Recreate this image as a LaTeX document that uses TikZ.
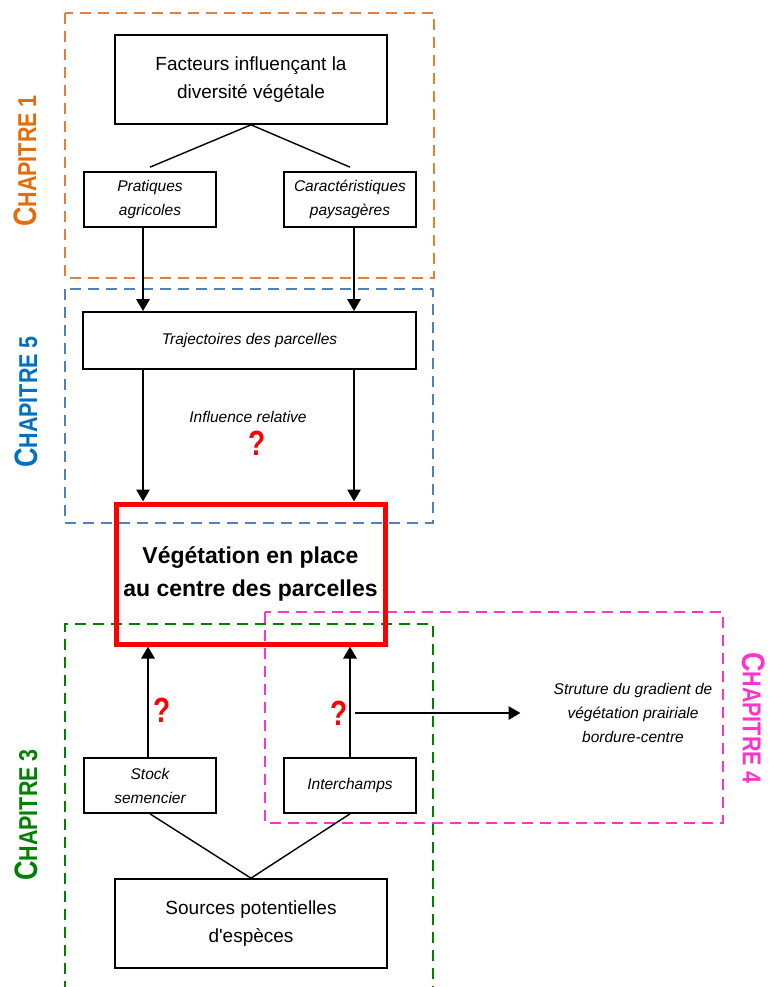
\documentclass[tikz,border=0pt]{standalone}
\usepackage{fontspec}
\setmainfont{Liberation Sans}[Ligatures=TeXOff]
\usetikzlibrary{arrows.meta}
\definecolor{corange}{HTML}{E46C0A}
\definecolor{dorange}{HTML}{ED7D31}
\definecolor{cblue}{HTML}{0070C0}
\definecolor{dblue}{HTML}{4F81BD}
\definecolor{cgreen}{HTML}{008000}
\definecolor{cpink}{HTML}{FF33CC}
\definecolor{cred}{HTML}{FF0000}
\newcommand{\chaplabel}[1]{\scalebox{1}[1.2]{{\fontsize{27}{27}\selectfont C}{\fontsize{21.5}{21.5}\selectfont #1}}}
\begin{document}
\begin{tikzpicture}[x=1pt,y=-1pt,
  stdbox/.style={draw, line width=1.7pt, align=center, inner sep=0pt, font=\fontsize{19}{28}\selectfont},
  itbox/.style={draw, line width=1.7pt, align=center, inner sep=0pt, minimum width=132pt, minimum height=55pt, font=\fontsize{15.5}{24}\selectfont\itshape},
  ittext/.style={align=center, inner sep=0pt, font=\fontsize{15.5}{24}\selectfont\itshape},
  chapdash/.style={line width=2.8pt, dash pattern=on 11pt off 7pt},
  thinline/.style={line width=1.4pt},
  arr/.style={line width=2.8pt, -{Triangle[length=12pt,width=13pt]}},
  qmark/.style={inner sep=0pt, text=cred, font=\fontsize{28}{28}\selectfont\bfseries},
  chap/.style={inner sep=0pt, font=\bfseries}
]
\useasboundingbox (0,0) rectangle (769,987);
\clip (0,0) rectangle (769,987);
\fill[white] (0,0) rectangle (769,987);

% chapter regions
\draw[chapdash, dorange] (65,13) rectangle (434,278);
\draw[chapdash, dblue] (65,289) rectangle (433,523);
\draw[chapdash, cgreen] (65,1010) -- (65,624) -- (433,624) -- (433,1010);
\draw[chapdash, cpink] (265,612) rectangle (723,823);

% chapter labels
\node[chap, text=corange, rotate=90] (ch1) at (25,161) {\chaplabel{HAPITRE 1}};
\node[chap, text=cblue, rotate=90] (ch5) at (26,402) {\chaplabel{HAPITRE 5}};
\node[chap, text=cgreen, rotate=90] (ch3) at (26,815) {\chaplabel{HAPITRE 3}};
\node[chap, text=cpink, rotate=-90] (ch4) at (754,718) {\chaplabel{HAPITRE 4}};

% boxes
\node[stdbox, minimum width=272pt, minimum height=89pt] (fact) at (251,79.5) {Facteurs influençant la\\diversité végétale};
\node[itbox] (prat) at (150,199.5) {Pratiques\\agricoles};
\node[itbox] (car) at (350,199.5) {Caractéristiques\\paysagères};
\node[itbox, minimum width=333pt, minimum height=57pt] (traj) at (249.5,340.5) {Trajectoires des parcelles};
\node[draw=cred, line width=5pt, minimum width=269pt, minimum height=140pt, align=center, inner sep=0pt, font=\fontsize{23}{33}\selectfont\bfseries] (veg) at (250.5,574) {Végétation en place\\au centre des parcelles};
\node[itbox] (stock) at (150,785.5) {Stock\\semencier};
\node[itbox] (inter) at (350,785.5) {Interchamps};
\node[stdbox, minimum width=272pt, minimum height=89pt] (src) at (251,923.5) {Sources potentielles\\d'espèces};

% texts
\node[ittext] (infl) at (248,417) {Influence relative};
\node[ittext] (strut) at (633,713) {Struture du gradient de\\végétation prairiale\\bordure-centre};
\node[qmark] (q1) at (257,443) {\scalebox{1}[1.25]{?}};
\node[qmark] (q2) at (162,710) {\scalebox{1}[1.25]{?}};
\node[qmark] (q3) at (339,713) {\scalebox{1}[1.25]{?}};

% connectors
\draw[thinline] (fact.south) -- ([yshift=4pt]prat.north);
\draw[thinline] (fact.south) -- ([yshift=4pt]car.north);
\draw[arr] ([xshift=-7pt]prat.south) -- ([xshift=-7pt]prat.south |- traj.north);
\draw[arr] ([xshift=4pt]car.south) -- ([xshift=4pt]car.south |- traj.north);
\draw[arr] ([xshift=-7pt]prat.south |- traj.south) -- ([xshift=-7pt]prat.south |- veg.north);
\draw[arr] ([xshift=4pt]car.south |- traj.south) -- ([xshift=4pt]car.south |- veg.north);
\draw[arr] ([xshift=-2pt]stock.north) -- ([xshift=-2pt]stock.north |- veg.south);
\draw[arr] (inter.north) -- (inter.north |- veg.south);
\draw[arr] ([xshift=5pt]inter.north |- strut.west) -- ([xshift=-33pt]strut.west);
\draw[thinline] (stock.south) -- (src.north);
\draw[thinline] (inter.south) -- (src.north);
\end{tikzpicture}
\end{document}
